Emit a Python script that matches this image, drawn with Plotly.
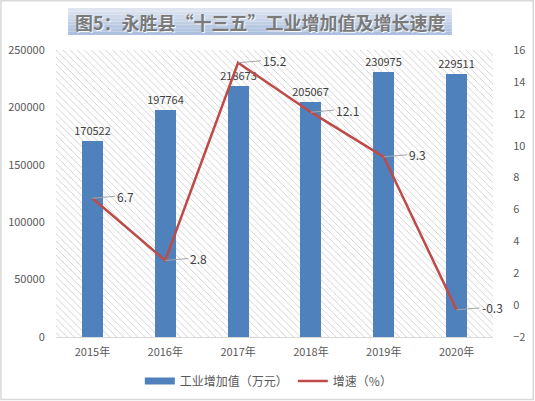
import plotly.graph_objects as go

years = ["2015年", "2016年", "2017年", "2018年", "2019年", "2020年"]
value_added = [170522, 197764, 218673, 205067, 230975, 229511]
growth = [6.7, 2.8, 15.2, 12.1, 9.3, -0.3]
bar_name = "工业增加值（万元）"
line_name = "增速（%）"
title_text = "图5：永胜县“十三五”工业增加值及增长速度"

xs = list(range(len(years)))
BLUE = "#4F81BD"
RED = "#BE4B48"
FONT = "Noto Sans CJK SC"
GRAY_TXT = "#595959"

fig = go.Figure()

# hatched plot background
fig.add_trace(go.Bar(
    x=xs, y=[250000] * len(xs), width=1, hoverinfo="skip", showlegend=False,
    marker=dict(color="white", line=dict(width=0),
                pattern=dict(shape="\\", fgcolor="#c8c8c8", bgcolor="white",
                             size=5, solidity=0.16, fillmode="replace")),
))

fig.add_trace(go.Bar(
    x=xs, y=value_added, width=0.29, name=bar_name, showlegend=False,
    marker=dict(color=BLUE, line=dict(width=0)),
    text=[str(v) for v in value_added], textposition="outside",
    constraintext="none",
    textfont=dict(size=11, color="#404040", family=FONT), cliponaxis=False,
))

fig.add_trace(go.Scatter(
    x=xs, y=growth, yaxis="y2", mode="lines", name=line_name, showlegend=False,
    line=dict(color=RED, width=2.5),
))

# legend entries
fig.add_trace(go.Scatter(x=[None], y=[None], mode="lines", name=bar_name,
                         line=dict(color=BLUE, width=7)))
fig.add_trace(go.Scatter(x=[None], y=[None], mode="lines", name=line_name,
                         line=dict(color=RED, width=2.5)))

annotations = []
for x, g in zip(xs, growth):
    annotations.append(dict(
        x=x, y=g, xref="x", yref="y2", text=f"{g}", showarrow=True,
        arrowhead=0, arrowwidth=1, arrowcolor="#a6a6a6", ax=23, ay=-2,
        xanchor="left", font=dict(size=12, color="#404040", family=FONT),
        standoff=0, borderpad=1,
    ))

annotations.append(dict(
    x=0.467, y=1.099, xref="paper", yref="paper", text=f"<b>{title_text}</b>",
    xanchor="center", yanchor="middle",
    showarrow=False, font=dict(size=18, color="#7a7a7a", family=FONT,
                                shadow="1px 1px 1px #ffffff"),
))
fig.update_layout(annotations=annotations)

# title box gradient + outer frame
shapes = []
n = 8
top, bot = 1.1463, 1.0523
for i in range(n):
    t = i / (n - 1)
    r = int(222 + (172 - 222) * t)
    g_ = int(229 + (191 - 229) * t)
    b = int(240 + (222 - 240) * t)
    y1 = top - (top - bot) * i / n
    y0 = top - (top - bot) * (i + 1) / n
    shapes.append(dict(type="rect", xref="paper", yref="paper",
                       x0=0.0275, x1=0.906, y0=y0, y1=y1, layer="below",
                       fillcolor=f"rgb({r},{g_},{b})", line=dict(width=0)))
shapes.append(dict(type="rect", xref="paper", yref="paper",
                   x0=-0.126, x1=1.092, y0=-0.218, y1=1.172,
                   line=dict(color="#d9d9d9", width=1.5)))
fig.update_layout(shapes=shapes)

fig.update_layout(
    width=535, height=401,
    margin=dict(l=56, r=42, t=50, b=64, autoexpand=False),
    paper_bgcolor="white", plot_bgcolor="white",
    barmode="overlay", bargap=0,
    font=dict(family=FONT, size=11, color=GRAY_TXT),
    xaxis=dict(range=[-0.5, 5.5], tickvals=xs, ticktext=years, showgrid=False,
               zeroline=False, showline=True, linecolor="#d9d9d9",
               automargin=False,
               ticks="outside", ticklen=5, tickcolor="rgba(0,0,0,0)",
               tickfont=dict(size=11, color=GRAY_TXT),
               minor=dict(tickvals=[-0.5, 0.5, 1.5, 2.5, 3.5, 4.5, 5.5],
                          showgrid=True, gridcolor="#d9d9d9", gridwidth=1)),
    yaxis=dict(range=[0, 250000], dtick=50000, tickformat="d", showgrid=True,
               gridcolor="#d9d9d9", zeroline=False, ticks="outside",
               automargin=False,
               ticklen=8, tickcolor="rgba(0,0,0,0)",
               tickfont=dict(size=11, color=GRAY_TXT)),
    yaxis2=dict(range=[-2, 16], dtick=2, overlaying="y", side="right",
                showgrid=False, zeroline=False, ticks="outside", ticklen=17,
                automargin=False,
                tickcolor="rgba(0,0,0,0)", tickfont=dict(size=11, color=GRAY_TXT)),
    legend=dict(orientation="h", x=0.487, xanchor="center", y=-0.153,
                yanchor="middle", font=dict(size=12, color=GRAY_TXT),
                itemwidth=30, tracegroupgap=0),
)

fig.write_html(
    "out.html",
    config={"displayModeBar": False},
    post_script=(
        "document.documentElement.style.margin='0';"
        "document.documentElement.style.overflow='hidden';"
        "document.body.style.margin='0';"
        "document.body.style.overflow='hidden';"
    ),
)
